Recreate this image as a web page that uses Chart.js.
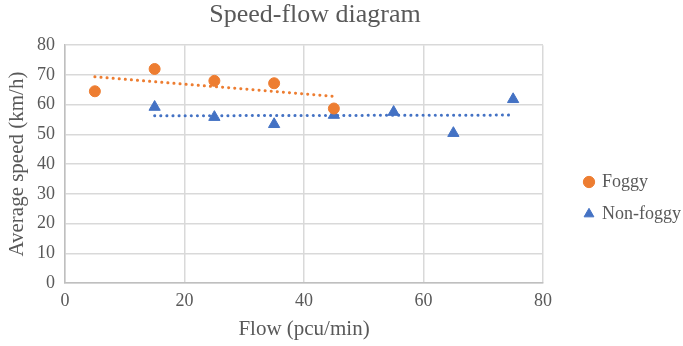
<!DOCTYPE html>
<html lang="en">
<head>
  <meta charset="UTF-8">
  <title>Speed-flow diagram</title>
  <script src="https://cdn.jsdelivr.net/npm/chart.js"></script>
  <style>
    body { margin: 0; background: #fff; }
    #wrap { width: 683px; height: 346px; }
  </style>
</head>
<body>
  <div id="wrap"><canvas id="speedFlow"></canvas></div>

  <script>
    // values
    const foggyFlow = [5, 15, 25, 35, 45];
    const foggySpeed = [64.5, 72, 68, 67.2, 58.7];
    const nonFoggyFlow = [15, 25, 35, 45, 55, 65, 75];
    const nonFoggySpeed = [59.2, 55.8, 53.4, 56.5, 57.5, 50.4, 61.8];

    const textGrey = '#595959';
    const font = 'Liberation Serif, Times New Roman, serif';

    // linear trendline (least squares), like the spreadsheet one
    function trend(xs, ys) {
      const n = xs.length;
      const mx = xs.reduce((a, b) => a + b, 0) / n;
      const my = ys.reduce((a, b) => a + b, 0) / n;
      let sxy = 0, sxx = 0;
      for (let i = 0; i < n; i++) {
        sxy += (xs[i] - mx) * (ys[i] - my);
        sxx += (xs[i] - mx) * (xs[i] - mx);
      }
      const b = sxy / sxx;
      const a = my - b * mx;
      const x0 = Math.min(...xs), x1 = Math.max(...xs);
      return [{ x: x0, y: a + b * x0 }, { x: x1, y: a + b * x1 }];
    }

    const pts = (xs, ys) => xs.map((x, i) => ({ x: x, y: ys[i] }));

    // legend box is wider than its content, and the title sits a bit left
    const boxTweaks = {
      id: 'boxTweaks',
      beforeInit(chart) {
        const fit = chart.legend.fit;
        chart.legend.fit = function () {
          fit.bind(chart.legend)();
          this.width = 140;
        };
      },
      afterLayout(chart) {
        chart.legend.left += 28;
        chart.legend.top += 25;
        chart.legend.bottom += 25;
        chart.titleBlock.right -= 54;
      }
    };

    new Chart(document.getElementById('speedFlow'), {
      type: 'scatter',
      data: {
        datasets: [
          {
            label: 'Foggy',
            data: pts(foggyFlow, foggySpeed),
            backgroundColor: '#ED7D31',
            borderColor: '#ED7D31',
            pointStyle: 'circle',
            pointRadius: 5.5,
            pointHoverRadius: 5.5
          },
          {
            label: 'Non-foggy',
            data: pts(nonFoggyFlow, nonFoggySpeed),
            backgroundColor: '#4472C4',
            borderColor: '#4472C4',
            pointStyle: 'triangle',
            pointRadius: 6.5,
            pointHoverRadius: 6.5
          },
          {
            label: 'trend-foggy',
            type: 'line',
            data: trend(foggyFlow, foggySpeed),
            borderColor: '#ED7D31',
            borderWidth: 3,
            borderDash: [0.1, 6],
            borderCapStyle: 'round',
            pointRadius: 0,
            fill: false
          },
          {
            label: 'trend-nonfoggy',
            type: 'line',
            data: trend(nonFoggyFlow, nonFoggySpeed),
            borderColor: '#4472C4',
            borderWidth: 3,
            borderDash: [0.1, 6],
            borderCapStyle: 'round',
            pointRadius: 0,
            fill: false
          }
        ]
      },
      options: {
        responsive: true,
        maintainAspectRatio: false,
        animation: false,
        layout: { padding: { left: 1, right: 0, top: 0, bottom: 0 } },
        plugins: {
          title: {
            display: true,
            text: 'Speed-flow diagram',
            color: textGrey,
            font: { family: font, size: 26, weight: 'normal' },
            padding: { top: 0, bottom: 14 }
          },
          legend: {
            position: 'right',
            labels: {
              color: textGrey,
              font: { family: font, size: 18 },
              usePointStyle: true,
              boxWidth: 8,
              boxHeight: 8,
              padding: 14,
              filter: item => !item.text.startsWith('trend')
            }
          },
          tooltip: { enabled: false }
        },
        scales: {
          x: {
            type: 'linear',
            min: 0,
            max: 80,
            afterFit: scale => { scale.height = 63; },
            ticks: { stepSize: 20, padding: 7, color: textGrey, font: { family: font, size: 18 } },
            grid: { color: '#d9d9d9', lineWidth: 1.5, drawTicks: false },
            border: { color: '#bfbfbf', width: 1.5 },
            title: {
              display: true,
              text: 'Flow (pcu/min)',
              color: textGrey,
              font: { family: font, size: 21 }
            }
          },
          y: {
            min: 0,
            max: 80,
            afterFit: scale => { scale.width = 64; },
            ticks: { stepSize: 10, padding: 10, color: textGrey, font: { family: font, size: 18 } },
            grid: { color: '#d9d9d9', lineWidth: 1.5, drawTicks: false },
            border: { color: '#bfbfbf', width: 1.5 },
            title: {
              display: true,
              text: 'Average speed (km/h)',
              color: textGrey,
              font: { family: font, size: 21 }
            }
          }
        }
      },
      plugins: [boxTweaks]
    });
  </script>
</body>
</html>
